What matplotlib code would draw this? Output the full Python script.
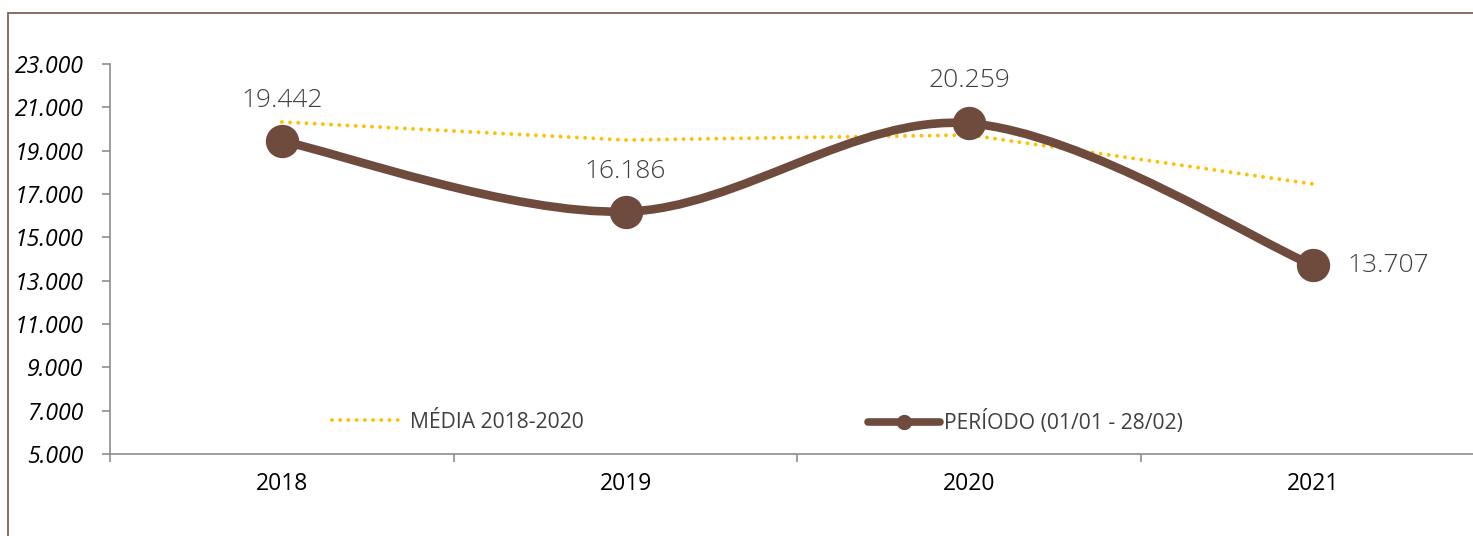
import matplotlib
matplotlib.use("Agg")
import matplotlib.pyplot as plt
from matplotlib.path import Path
from matplotlib.patches import PathPatch, Rectangle
from matplotlib.lines import Line2D
from matplotlib.ticker import FuncFormatter, FixedLocator
import numpy as np

years = ["2018", "2019", "2020", "2021"]
periodo = [19442, 16186, 20259, 13707]
media = [20323, 19492, 19723, 17461]
yticks = [5000, 7000, 9000, 11000, 13000, 15000, 17000, 19000, 21000, 23000]
legend_media = "MÉDIA 2018-2020"
legend_periodo = "PERÍODO (01/01 - 28/02)"

BROWN = "#6F4B3E"
GOLD = "#FFC000"
GRAY_TXT = "#404040"
AXIS_GRAY = "#8C8C8C"
DOTS = (0, (0.01, 2.1))

W, H = 1473, 536
fig = plt.figure(figsize=(W / 100, H / 100), dpi=100)
fig.patch.set_facecolor("white")

# outer chart frame
fig.patches.append(Rectangle((8 / W, -0.1), 1.2, 1 - 13 / H + 0.1, transform=fig.transFigure,
                             fill=False, edgecolor="#7F6253", lw=1.3))

ax = fig.add_axes([110 / W, 1 - 454 / H, 1375 / W, (454 - 64) / H])
ax.set_xlim(-0.5, 3.5)
ax.set_ylim(5000, 23000)
x = np.arange(len(years))

# media (straight dotted)
ax.plot(x, media, color=GOLD, lw=2.8, linestyle=DOTS, dash_capstyle="round",
        zorder=2, clip_on=False)

# smoothed periodo line (Excel-like Bezier smoothing)
pts = np.column_stack([x, periodo]).astype(float)
ext = np.vstack([pts[0], pts, pts[-1]])
verts = [tuple(pts[0])]
codes = [Path.MOVETO]
for i in range(len(pts) - 1):
    p0, p1, p2, p3 = ext[i], ext[i + 1], ext[i + 2], ext[i + 3]
    c1 = p1 + (p2 - p0) / 6.0
    c2 = p2 - (p3 - p1) / 6.0
    verts += [tuple(c1), tuple(c2), tuple(p2)]
    codes += [Path.CURVE4] * 3
ax.add_patch(PathPatch(Path(verts, codes), facecolor="none", edgecolor=BROWN, lw=6.2,
                       capstyle="round", joinstyle="round", zorder=3, clip_on=False))
ax.plot(x, periodo, linestyle="none", marker="o", markersize=23, color=BROWN, zorder=4,
        clip_on=False)

# data labels
fmt = lambda v: f"{v:,.0f}".replace(",", ".")
offsets = [(0, 28), (0, 28), (0, 30), (34, 0)]
for xi, v, (dx, dy) in zip(x, periodo, offsets):
    ha = "center" if dx == 0 else "left"
    ax.annotate(fmt(v), (xi, v), xytext=(dx * 0.72, dy * 0.72 + (0 if dx else 9)),
                textcoords="offset points", ha=ha, va="center", fontsize=19,
                color=GRAY_TXT, family="Open Sans", fontweight="light", zorder=5)

# axes styling
for s in ["top", "right"]:
    ax.spines[s].set_visible(False)
for s in ["left", "bottom"]:
    ax.spines[s].set_color(AXIS_GRAY)
    ax.spines[s].set_linewidth(1.2)

ax.yaxis.set_major_locator(FixedLocator(yticks))
ax.yaxis.set_major_formatter(FuncFormatter(lambda v, p: fmt(v)))
ax.tick_params(axis="y", direction="out", length=6, width=1.2, color=AXIS_GRAY, pad=13)
for lab in ax.get_yticklabels():
    lab.set_fontstyle("italic")
    lab.set_fontsize(16.6)
    lab.set_family("Open Sans")
    lab.set_color("black")

ax.set_xticks(x)
ax.set_xticklabels(years, fontsize=16.5, family="Open Sans", color="black")
ax.set_xticks(np.arange(-0.5, 3.6, 1.0), minor=True)
ax.tick_params(axis="x", which="major", length=0, pad=13)
ax.tick_params(axis="x", which="minor", direction="out", length=6, width=1.2, color=AXIS_GRAY)

# legends
h1 = Line2D([], [], color=GOLD, lw=2.8, linestyle=DOTS, dash_capstyle="round")
h2 = Line2D([], [], color=BROWN, lw=5.5, marker="o", markersize=10, solid_capstyle="round")
leg_kw = dict(frameon=False, borderpad=0, borderaxespad=0, labelcolor=GRAY_TXT,
              prop={"family": "Open Sans", "size": 15.2}, loc="center left",
              bbox_transform=fig.transFigure)
l1 = fig.legend([h1], [legend_media], bbox_to_anchor=(332 / W, 1 - 422 / H),
                handlelength=3.2, handletextpad=0.5, **leg_kw)
l2 = fig.legend([h2], [legend_periodo], bbox_to_anchor=(868 / W, 1 - 422 / H),
                handlelength=3.4, handletextpad=0.2, **leg_kw)

fig.savefig("out.png", dpi=100)
